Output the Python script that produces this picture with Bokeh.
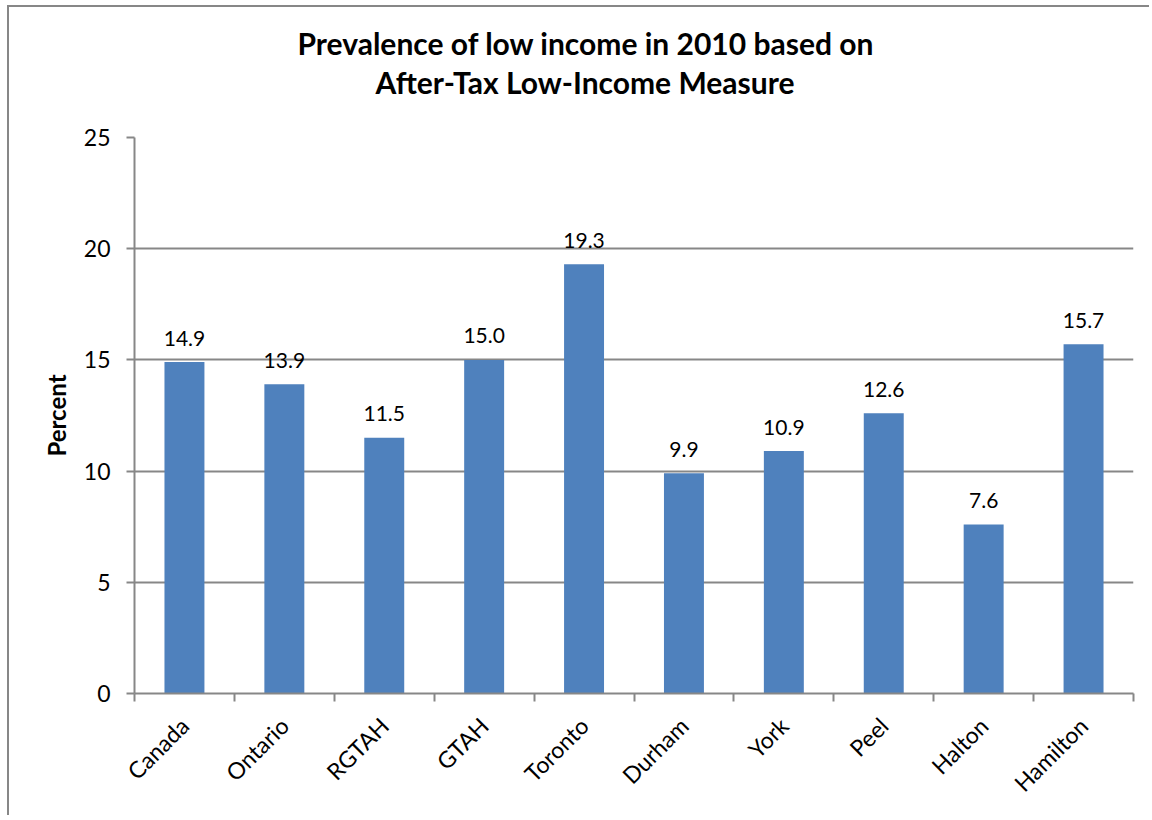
from math import pi
from bokeh.plotting import figure
from bokeh.models import Range1d, FixedTicker, Title, ColumnDataSource
from bokeh.core.properties import value
from bokeh.embed import file_html
from bokeh.resources import INLINE

categories = ["Canada", "Ontario", "RGTAH", "GTAH", "Toronto", "Durham", "York", "Peel", "Halton", "Hamilton"]
percent = [14.9, 13.9, 11.5, 15.0, 19.3, 9.9, 10.9, 12.6, 7.6, 15.7]
y_ticks = [0, 5, 10, 15, 20, 25]
title_lines = ["Prevalence of low income in 2010 based on", "After-Tax Low-Income Measure"]
y_label = "Percent"

GRAY = "#878787"
BLUE = "#4F81BD"
FONT = "Lato"

W, H = 1142, 810
n = len(categories)
# each category occupies one unit slot; marks sit at slot centres
centres = [i + 0.5 for i in range(n)]
src = ColumnDataSource(dict(x=centres, val=percent, lbl=[f"{v:.1f}" for v in percent]))

p = figure(
    x_range=Range1d(0, n),
    y_range=Range1d(y_ticks[0], y_ticks[-1]),
    width=W, height=H,
    output_backend="svg", toolbar_location=None,
    min_border_left=125, min_border_right=18, min_border_top=130, min_border_bottom=124,
)
p.styles = {"border-left": f"2px solid {GRAY}", "border-top": f"2px solid {GRAY}",
            "margin-left": "7px", "margin-top": "5px"}
p.outline_line_color = None
p.background_fill_color = "white"
p.border_fill_color = "white"

# two-line chart title (line 2 is nearest the frame, so it is added first)
title_style = dict(align="left", text_font=FONT, text_font_size="30px",
                   text_font_style="bold", text_color="black")
p.add_layout(Title(text=title_lines[1], offset=241, standoff=75, **title_style), "above")
p.add_layout(Title(text=title_lines[0], offset=163, standoff=-73, **title_style), "above")

# y axis
yax = p.yaxis[0]
yax.ticker = FixedTicker(ticks=y_ticks)
yax.axis_line_color = GRAY
yax.axis_line_width = 2
yax.major_tick_line_color = GRAY
yax.major_tick_line_width = 2
yax.major_tick_out = 8
yax.major_tick_in = 0
yax.minor_tick_line_color = None
yax.major_label_text_font = FONT
yax.major_label_text_font_size = "23px"
yax.major_label_text_color = "black"
yax.major_label_standoff = 16
yax.axis_label = y_label
yax.axis_label_text_font = FONT
yax.axis_label_text_font_size = "24px"
yax.axis_label_text_font_style = "bold"
yax.axis_label_text_color = "black"
yax.axis_label_standoff = 10

p.ygrid.grid_line_color = GRAY
p.ygrid.grid_line_width = 2
p.xgrid.visible = False

# x axis: labels at category centres, ticks at category boundaries
xax = p.xaxis[0]
xax.ticker = FixedTicker(ticks=centres, minor_ticks=list(range(n + 1)))
xax.major_label_overrides = {c: cat for c, cat in zip(centres, categories)}
xax.axis_line_color = GRAY
xax.axis_line_width = 2
xax.major_tick_line_color = None
xax.minor_tick_line_color = GRAY
xax.minor_tick_line_width = 2
xax.minor_tick_out = 8
xax.minor_tick_in = 0
xax.major_label_orientation = pi / 4
xax.major_label_text_font = FONT
xax.major_label_text_font_size = "23px"
xax.major_label_text_color = "black"
xax.major_label_standoff = 20

p.vbar(x="x", top="val", width=0.4, source=src, fill_color=BLUE, line_color=None)
p.text(x="x", y="val", text="lbl", source=src, text_align="center", text_baseline="alphabetic",
       y_offset=-24, text_font=value(FONT), text_font_size="21px", text_color="black")

open("out.html", "w").write(file_html(p, INLINE))
